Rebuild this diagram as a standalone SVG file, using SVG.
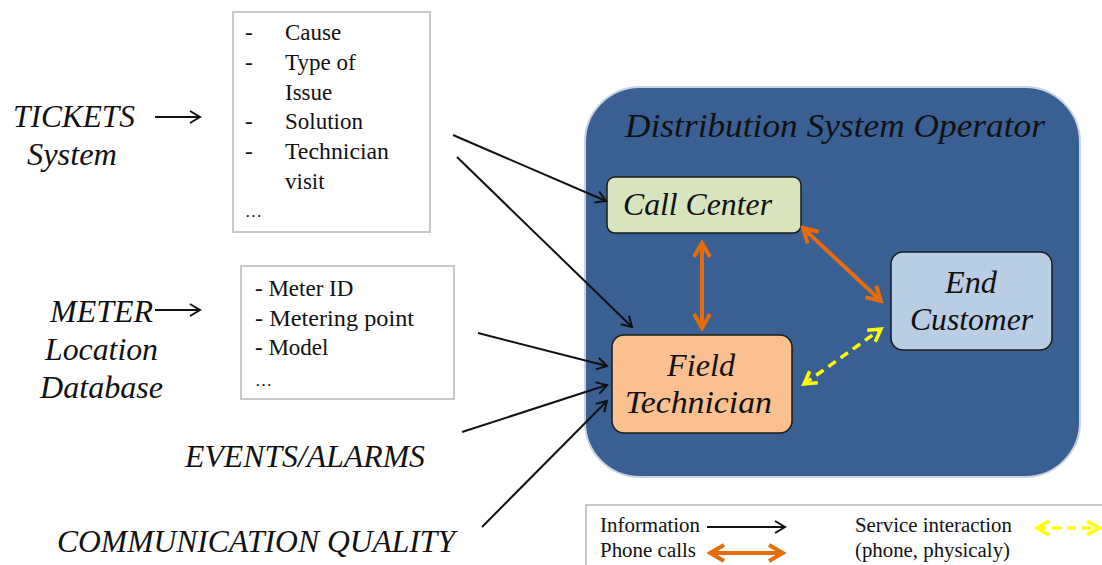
<svg xmlns="http://www.w3.org/2000/svg" width="1102" height="565" viewBox="0 0 1102 565">
  <style>
    .it { font-family: "Liberation Serif", "Times New Roman", serif; font-style: italic; fill: #111; }
    .rm { font-family: "Liberation Serif", "Times New Roman", serif; fill: #111; }
    .listbox { fill: #fff; stroke: #c8c8c8; stroke-width: 2; }
    .node { stroke: #1a1a1a; stroke-width: 1.5; }
    .info { stroke: #111; stroke-width: 2; fill: none; }
    .phone { stroke: #e46c0a; stroke-width: 4; fill: none; }
    .service { stroke: #ffff00; stroke-width: 3.5; fill: none; stroke-dasharray: 9 6; }
  </style>
  <defs>
    <marker id="ah-black" viewBox="0 0 14 14" refX="12" refY="7" markerWidth="14" markerHeight="14" markerUnits="userSpaceOnUse" orient="auto">
      <path d="M2,1 L12,7 L2,13" fill="none" stroke="#111" stroke-width="2"/>
    </marker>
    <marker id="ah-orange" viewBox="0 0 20 20" refX="17" refY="10" markerWidth="20" markerHeight="20" markerUnits="userSpaceOnUse" orient="auto-start-reverse">
      <path d="M3,2 L17,10 L3,18" fill="none" stroke="#e46c0a" stroke-width="4"/>
    </marker>
    <marker id="ah-yellow" viewBox="0 0 18 18" refX="15" refY="9" markerWidth="18" markerHeight="18" markerUnits="userSpaceOnUse" orient="auto-start-reverse">
      <path d="M3,2 L15,9 L3,16" fill="none" stroke="#ffff00" stroke-width="3.5"/>
    </marker>
  </defs>

  <rect width="1102" height="565" fill="#fff"/>

  <!-- data sources -->
  <g id="tickets-source">
    <text class="it" x="13" y="127" font-size="31" textLength="122" lengthAdjust="spacingAndGlyphs">TICKETS</text>
    <text class="it" x="27" y="165" font-size="31" textLength="90" lengthAdjust="spacingAndGlyphs">System</text>
  </g>
  <g id="tickets-fields">
    <rect class="listbox" x="233" y="12" width="197" height="220"/>
    <g class="rm" font-size="23">
      <text x="245" y="40">-</text><text x="285" y="40">Cause</text>
      <text x="245" y="70">-</text><text x="285" y="70">Type of</text>
      <text x="285" y="100">Issue</text>
      <text x="245" y="129">-</text><text x="285" y="129">Solution</text>
      <text x="245" y="159">-</text><text x="285" y="159" textLength="104" lengthAdjust="spacingAndGlyphs">Technician</text>
      <text x="285" y="189">visit</text>
      <text x="245" y="217" font-size="17">…</text>
    </g>
  </g>
  <g id="meter-source">
    <text class="it" x="50" y="322" font-size="31" textLength="103" lengthAdjust="spacingAndGlyphs">METER</text>
    <text class="it" x="45" y="360" font-size="31" textLength="113" lengthAdjust="spacingAndGlyphs">Location</text>
    <text class="it" x="40" y="398" font-size="31" textLength="123" lengthAdjust="spacingAndGlyphs">Database</text>
  </g>
  <g id="meter-fields">
    <rect class="listbox" x="241" y="266" width="213" height="133"/>
    <g class="rm" font-size="23">
      <text x="255" y="296">- Meter ID</text>
      <text x="255" y="326" textLength="159" lengthAdjust="spacingAndGlyphs">- Metering point</text>
      <text x="255" y="355">- Model</text>
      <text x="255" y="386" font-size="17">…</text>
    </g>
  </g>
  <g id="events-alarms">
    <text class="it" x="185" y="467" font-size="31" textLength="240" lengthAdjust="spacingAndGlyphs">EVENTS/ALARMS</text>
  </g>
  <g id="communication-quality">
    <text class="it" x="57" y="552" font-size="31" textLength="398" lengthAdjust="spacingAndGlyphs">COMMUNICATION QUALITY</text>
  </g>

  <!-- operator container -->
  <g id="dso">
    <rect x="585" y="87" width="495" height="390" rx="55" fill="#3a5f93" stroke="#c9d3e0" stroke-width="2"/>
    <text class="it" x="625" y="137" font-size="33" textLength="420" lengthAdjust="spacingAndGlyphs" fill="#0d1525">Distribution System Operator</text>
  </g>
  <g id="call-center">
    <rect class="node" x="607" y="177" width="194" height="56" rx="8" fill="#d7e4bd"/>
    <text class="it" x="623" y="215" font-size="31" textLength="149" lengthAdjust="spacingAndGlyphs">Call Center</text>
  </g>
  <g id="field-technician">
    <rect class="node" x="612" y="335" width="180" height="98" rx="12" fill="#fac090"/>
    <text class="it" x="667" y="376" font-size="31" textLength="68" lengthAdjust="spacingAndGlyphs">Field</text>
    <text class="it" x="625" y="413" font-size="31" textLength="147" lengthAdjust="spacingAndGlyphs">Technician</text>
  </g>
  <g id="end-customer">
    <rect class="node" x="891" y="252" width="161" height="98" rx="12" fill="#b9cde5"/>
    <text class="it" x="945" y="293" font-size="31" textLength="52" lengthAdjust="spacingAndGlyphs">End</text>
    <text class="it" x="910" y="330" font-size="31" textLength="123" lengthAdjust="spacingAndGlyphs">Customer</text>
  </g>

  <!-- connectors -->
  <g id="connectors">
    <line class="info" x1="155" y1="117" x2="200" y2="117" marker-end="url(#ah-black)"/>
    <line class="info" x1="155" y1="310" x2="200" y2="310" marker-end="url(#ah-black)"/>
    <line class="info" x1="453" y1="135" x2="606" y2="201" marker-end="url(#ah-black)"/>
    <line class="info" x1="457" y1="157" x2="632" y2="327" marker-end="url(#ah-black)"/>
    <line class="info" x1="478" y1="333" x2="607" y2="366" marker-end="url(#ah-black)"/>
    <line class="info" x1="462" y1="432" x2="607" y2="385" marker-end="url(#ah-black)"/>
    <line class="info" x1="482" y1="527" x2="607" y2="401" marker-end="url(#ah-black)"/>
    <line class="phone" x1="702" y1="243" x2="702" y2="328" marker-start="url(#ah-orange)" marker-end="url(#ah-orange)"/>
    <line class="phone" x1="803" y1="228" x2="881" y2="301" marker-start="url(#ah-orange)" marker-end="url(#ah-orange)"/>
    <line class="service" x1="804" y1="384" x2="881" y2="329" marker-start="url(#ah-yellow)" marker-end="url(#ah-yellow)"/>
  </g>

  <!-- key -->
  <g id="legend">
    <rect x="586" y="505" width="530" height="70" fill="#fff" stroke="#c8c8c8" stroke-width="2"/>
    <text class="rm" x="600" y="532" font-size="20.5" textLength="100" lengthAdjust="spacingAndGlyphs">Information</text>
    <text class="rm" x="600" y="557" font-size="20.5" textLength="96" lengthAdjust="spacingAndGlyphs">Phone calls</text>
    <line class="info" x1="707" y1="527" x2="785" y2="527" marker-end="url(#ah-black)"/>
    <line class="phone" x1="710" y1="553" x2="783" y2="553" marker-start="url(#ah-orange)" marker-end="url(#ah-orange)"/>
    <text class="rm" x="855" y="532" font-size="20.5" textLength="157" lengthAdjust="spacingAndGlyphs">Service interaction</text>
    <text class="rm" x="855" y="557" font-size="20.5" textLength="155" lengthAdjust="spacingAndGlyphs">(phone, physicaly)</text>
    <line class="service" x1="1037" y1="528" x2="1099" y2="528" marker-start="url(#ah-yellow)" marker-end="url(#ah-yellow)"/>
  </g>
</svg>
